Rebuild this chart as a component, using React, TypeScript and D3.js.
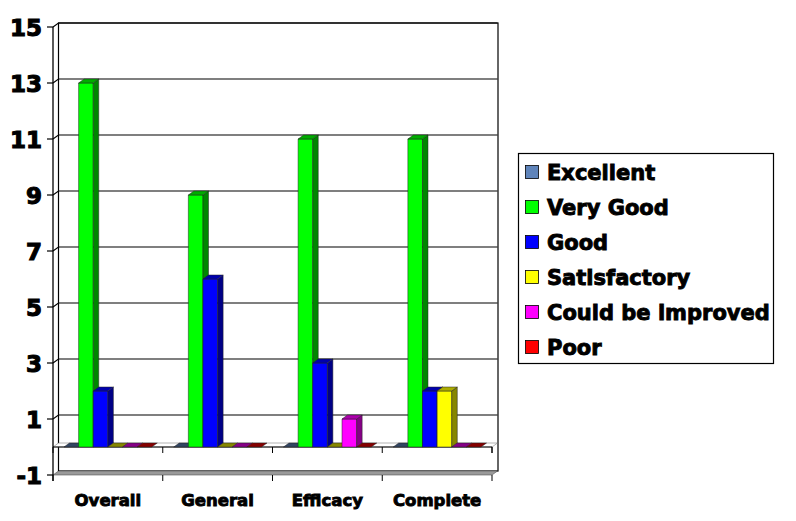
import React from "react";
import * as d3 from "d3";

const categories = ["Overall", "General", "Efficacy", "Complete"];
const seriesNames = ["Excellent", "Very Good", "Good", "Satisfactory", "Could be improved", "Poor"];
const seriesColors = ["#5F84BA", "#00FF00", "#0000FF", "#FFFF00", "#FF00FF", "#FF0000"];

const excellent = [0, 0, 0, 0];
const veryGood = [13, 9, 11, 11];
const good = [2, 6, 3, 2];
const satisfactory = [0, 0, 0, 2];
const couldBeImproved = [0, 0, 1, 0];
const poor = [0, 0, 0, 0];

const yTicks = [-1, 1, 3, 5, 7, 9, 11, 13, 15];

const W = 796;
const H = 521;
// oblique depth offset of the 3d box
const DX = 5.5;
const DY = -4;
const FONT = "'DejaVu Sans', 'Liberation Sans', Arial, sans-serif";

const pts = (p: number[][]) => p.map((d) => d.join(",")).join(" ");

const App = () => {
  const values = [excellent, veryGood, good, satisfactory, couldBeImproved, poor];

  const x = d3.scaleBand().domain(categories).range([53, 492]).paddingInner(0).paddingOuter(0);
  const xs = d3
    .scaleBand()
    .domain(seriesNames)
    .range([0, x.bandwidth()])
    .paddingInner(0)
    .paddingOuter(0.75);
  const y = d3.scaleLinear().domain([-1, 15]).range([475, 27]);

  const left = x.range()[0];
  const right = x.range()[1];
  const y0 = y(0);
  const yMin = y(-1);
  const yMax = y(15);

  const bars: any[] = [];
  categories.forEach((cat, ci) => {
    seriesNames.forEach((s, si) => {
      const v = values[si][ci];
      const bx = x(cat)! + xs(s)!;
      const bw = xs.bandwidth();
      const top = y(v);
      const c = seriesColors[si];
      const topCol = d3.rgb(c).darker(1.1).formatHex();
      const sideCol = d3.rgb(c).darker(1.8).formatHex();
      bars.push(
        <g key={`${ci}-${si}`} stroke="#222" strokeWidth={0.5} strokeLinejoin="round">
          {v > 0 && <rect x={bx} y={top} width={bw} height={y0 - top} fill={c} />}
          {v > 0 && (
            <polygon
              points={pts([
                [bx + bw, top],
                [bx + bw + DX, top + DY],
                [bx + bw + DX, y0 + DY],
                [bx + bw, y0],
              ])}
              fill={sideCol}
            />
          )}
          <polygon
            points={pts([
              [bx, top],
              [bx + DX, top + DY],
              [bx + bw + DX, top + DY],
              [bx + bw, top],
            ])}
            fill={v > 0 ? topCol : sideCol}
          />
        </g>
      );
    });
  });

  return (
    <svg
      width={W}
      height={H}
      style={{ position: "absolute", left: 0, top: 0, background: "#fff" }}
      fontFamily={FONT}
    >
      {/* back wall */}
      <rect x={left + DX} y={yMax + DY} width={right + 0.5 - left} height={yMin - yMax} fill="#fff" stroke="#000" strokeWidth={1.2} />
      {/* floor at -1 */}
      <polygon
        points={pts([
          [left, yMin],
          [right, yMin],
          [right + DX, yMin + DY],
          [left + DX, yMin + DY],
        ])}
        fill="#9a9a9a"
        stroke="#555"
        strokeWidth={0.6}
      />
      {/* gridlines */}
      {yTicks
        .filter((t) => t > -1)
        .map((t) => (
          <polyline
            key={t}
            points={pts([
              [left, y(t)],
              [left + DX, y(t) + DY],
              [right + DX, y(t) + DY],
            ])}
            fill="none"
            stroke="#000"
            strokeWidth={1.1}
          />
        ))}
      {/* left wall back edge */}
      <line x1={left + DX} x2={left + DX} y1={yMax + DY} y2={yMin + DY} stroke="#000" strokeWidth={1} />
      {/* plane at zero */}
      <polygon
        points={pts([
          [left, y0],
          [right, y0],
          [right + DX, y0 + DY],
          [left + DX, y0 + DY],
        ])}
        fill="#fff"
        stroke="#666"
        strokeWidth={0.5}
      />
      <line x1={left} x2={right} y1={y0} y2={y0} stroke="#000" strokeWidth={1.2} />
      <line x1={right} x2={right} y1={y0} y2={y0 + 6} stroke="#000" strokeWidth={1} />
      {bars}
      {/* value axis */}
      <line x1={left} x2={left} y1={yMax} y2={yMin + 6} stroke="#000" strokeWidth={1.3} />
      {yTicks.map((t) => (
        <g key={t}>
          <line x1={left - 6} x2={left} y1={y(t)} y2={y(t)} stroke="#000" strokeWidth={1.2} />
          <text
            x={42}
            y={y(t) + 8.5}
            textAnchor="end"
            fontSize={23}
            fontWeight="bold"
            stroke="#000"
            strokeWidth={1.1}
          >
            {t}
          </text>
        </g>
      ))}
      {/* category ticks and labels */}
      {[...categories.map((c) => x(c)!), right].map((v, i) => (
        <g key={i}>
          <line x1={v} x2={v} y1={y0} y2={y0 + 6} stroke="#000" strokeWidth={1} />
          <line x1={v} x2={v} y1={yMin} y2={yMin + 6} stroke="#000" strokeWidth={1} />
        </g>
      ))}
      {categories.map((c) => (
        <text
          key={c}
          x={x(c)! + x.bandwidth() / 2}
          y={506}
          textAnchor="middle"
          fontSize={16.5}
          fontWeight="bold"
          stroke="#000"
          strokeWidth={0.9}
        >
          {c}
        </text>
      ))}
      {/* legend */}
      <rect x={518.5} y={153.5} width={255} height={210} fill="#fff" stroke="#000" strokeWidth={1.2} />
      {seriesNames.map((s, i) => {
        const cy = 172 + i * 35;
        return (
          <g key={s}>
            <rect x={525.5} y={cy - 6.5} width={13} height={13} fill={seriesColors[i]} stroke="#000" strokeWidth={0.8} />
            <text x={547} y={cy + 8} fontSize={21} fontWeight="bold" stroke="#000" strokeWidth={0.9}>
              {s}
            </text>
          </g>
        );
      })}
    </svg>
  );
};

export default App;
